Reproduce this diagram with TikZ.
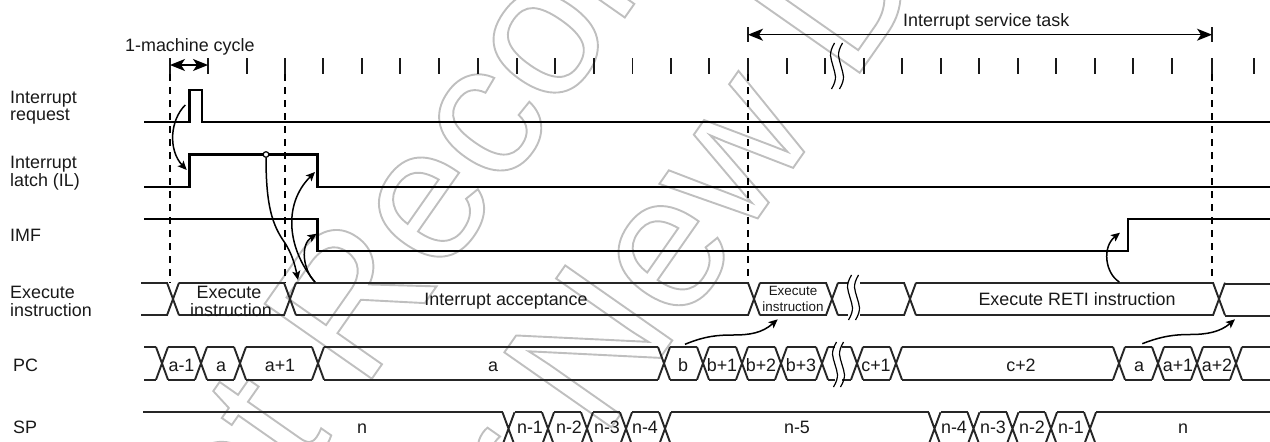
\documentclass[tikz,border=0pt]{standalone}
\usepackage{fontspec}
\setmainfont{Liberation Sans}
\usetikzlibrary{arrows.meta}
\newfontfamily\wmfont{Liberation Sans}
\newcommand{\wmtext}[1]{\special{pdf:code q 1 Tr 1.9 w 0.75 G}{\fontsize{190}{190}\selectfont\wmfont #1}\special{pdf:code Q}}
\tikzset{
  sig/.style={line width=2.1pt,color=black},
  bus/.style={line width=1.9pt,color=black!85,line join=round},
  tick/.style={line width=1.9pt,color=black!90},
  guide/.style={line width=1.4pt,dash pattern=on 7pt off 6pt},
  dim/.style={line width=1.3pt,{Stealth[length=15pt,width=12pt,inset=4pt]}-{Stealth[length=15pt,width=12pt,inset=4pt]}},
  cause/.style={line width=1.5pt,-{Stealth[length=9pt,width=8pt,inset=2pt]}},
  brk/.style={line width=1.2pt},
  lbl/.style={font=\fontsize{17.9}{18}\selectfont,anchor=base west,inner sep=0pt,align=left,color=black!90},
  val/.style={font=\fontsize{17.9}{18}\selectfont,anchor=base,inner sep=0pt,color=black!90},
  small/.style={font=\fontsize{13.4}{14}\selectfont,anchor=base,inner sep=0pt,color=black!90},
  wm/.style={anchor=base west,inner sep=0pt,rotate=55}
}
\newcommand{\crossing}[3]{\draw[bus] (#1-6,#2)--(#1+6,#3) (#1-6,#3)--(#1+6,#2);}
\newcommand{\rails}[4]{\draw[bus] (#1,#3)--(#2,#3) (#1,#4)--(#2,#4);}
\newcommand{\wavy}[3]{\draw[brk] (#1+1.5,#2) .. controls (#1-5,#2+11) and (#1-2,#2+15) .. (#1,{(#2+#3)/2}) .. controls (#1+2,#3-15) and (#1+5,#3-11) .. (#1-1.5,#3);}
\begin{document}
\begin{tikzpicture}[x=1pt,y=-1pt]
\useasboundingbox (0,0) rectangle (1270,442);
\clip (0,0) rectangle (1270,442);
% watermark
\node[wm] (wmA) at (163,677) {\wmtext{Not Recommended}};
\node[wm] (wmB) at (445,665) {\wmtext{for New Design}};
% ticks
\foreach \x in {170,208,247,285,323,362,400,439,478,517,555,594,632.5,671,709,748,787,825,864,902,941,979,1018,1056,1095,1133,1172,1212,1254}
  \draw[tick] (\x,58)--(\x,74);
\foreach \x in {170,285,748,1212}
  \draw[guide] (\x,74)--(\x,283);
\draw[tick,line width=1.4pt] (748,27)--(748,42) (1212,27)--(1212,42);
\coordinate (ma) at (170,65); \coordinate (mb) at (208,65);
\draw[dim] (ma)--(mb);
\coordinate (ia) at (748,34.7); \coordinate (ib) at (1212,34.7);
\draw[dim] (ia)--(ib);
\wavy{833}{43}{89}\wavy{841}{43}{89}
% signals
\draw[sig] (144,122.3)--(189.5,122.3)--(189.5,90)--(201.7,90)--(201.7,122.3)--(1270,122.3);
\draw[sig] (144,186.7)--(189.5,186.7)--(189.5,154.5)--(317.5,154.5)--(317.5,186.7)--(1270,186.7);
\draw[sig] (144,219)--(317.5,219)--(317.5,251)--(1128,251)--(1128,219)--(1270,219);
% execute row
\def\t{282.7}\def\b{315.3}
\rails{141}{167.5}{\t}{\b}\crossing{173}{\t}{\b}
\rails{179}{284.5}{\t}{\b}\crossing{290}{\t}{\b}
\rails{296}{748.5}{\t}{\b}\crossing{754}{\t}{\b}
\rails{760}{826.5}{\t}{\b}\crossing{832}{\t}{\b}
\rails{838}{848}{\t}{\b}\rails{860}{904.5}{\t}{\b}\crossing{910}{\t}{\b}
\rails{916}{1213.5}{\t}{\b}\crossing{1219}{\t}{\b}
\rails{1225}{1270}{283.7}{316}
\wavy{850}{275}{320}\wavy{857}{275}{320}
% PC row
\def\t{347}\def\b{379.7}
\rails{144}{156}{\t}{\b}
\foreach \c/\n in {162/201,201/240,240/318,318/664,664/703,703/742,742/781,781/822,857/896,896/1119,1119/1158,1158/1197,1197/1236}{
  \crossing{\c}{\t}{\b}\rails{\c+6}{\n-6}{\t}{\b}}
\crossing{822}{\t}{\b}\crossing{1236}{\t}{\b}
\rails{828}{835}{\t}{\b}\rails{842}{851}{\t}{\b}\rails{1242}{1270}{\t}{\b}
\wavy{835}{342}{387}\wavy{842}{342}{387}
% SP row
\def\t{412.3}\def\b{445}
\rails{143}{502.5}{\t}{\b}\rails{671}{928.5}{\t}{\b}\rails{1096}{1270}{\t}{\b}
\foreach \c/\n in {508.5/548,548/587,587/626,626/665,934.5/973.5,973.5/1012.5,1012.5/1051,1051/1090}{
  \crossing{\c}{\t}{\b}\rails{\c+6}{\n-6}{\t}{\b}}
\crossing{665}{\t}{\b}\crossing{1090}{\t}{\b}
% cause arrows
\coordinate (a1) at (185.3,105); \coordinate (a2) at (186.7,170);
\draw[cause] (a1) .. controls (170,120) and (168,150) .. (a2);
\draw[line width=1.2pt,fill=white] (266,154.5) circle (2.8) coordinate (ilm);
\coordinate (b2) at (298,280);
\draw[cause] (266,157.5) .. controls (266,205) and (272,225) .. (285,243) .. controls (292,254) and (295,265) .. (b2);
\coordinate (c1) at (315,282); \coordinate (c2) at (315,172);
\draw[cause] (c1) .. controls (288,250) and (282,205) .. (c2);
\coordinate (d1) at (315,282); \coordinate (d2) at (316.7,233.7);
\draw[cause] (d1) .. controls (303,270) and (300,245) .. (d2);
\coordinate (e1) at (685,344.3); \coordinate (e2) at (777.7,319.3);
\draw[cause] (e1) .. controls (705,336) and (718,335) .. (733,335) .. controls (750,335) and (762,333) .. (e2);
\coordinate (f1) at (1142.3,343.7); \coordinate (f2) at (1235,319.3);
\draw[cause] (f1) .. controls (1162,336) and (1175,334.5) .. (1190,334.5) .. controls (1207,334.5) and (1220,332) .. (f2);
\coordinate (g1) at (1119.3,282); \coordinate (g2) at (1120,232.7);
\draw[cause] (g1) .. controls (1105,273) and (1102,247) .. (g2);
% labels
\node[lbl] (l1) at (125,51.7) {1-machine cycle};
\node[lbl] (l2) at (903,26.7) {Interrupt service task};
\node[lbl] (r1a) at (10,103) {Interrupt};
\node[lbl] (r1b) at (10,120.7) {request};
\node[lbl] (r2a) at (10,168) {Interrupt};
\node[lbl] (r2b) at (10,186) {latch (IL)};
\node[lbl] (r3) at (10,241.7) {IMF};
\node[lbl] (r4a) at (10,298) {Execute};
\node[lbl] (r4b) at (10,316) {instruction};
\node[lbl] (r5) at (13,371) {PC};
\node[lbl] (r6) at (13,433) {SP};
\node[val] (x1) at (229,298) {Execute};
\node[val] (x2) at (231,316) {instruction};
\node[val] (x3) at (506,305) {Interrupt acceptance};
\node[small] (x4) at (793,295) {Execute};
\node[small] (x5) at (793,311) {instruction};
\node[val] (x6) at (1077,305) {Execute RETI instruction};
\foreach \c/\s in {181.5/a-1,221/a,280/a+1,493/a,683/b,722/b+1,761/b+2,801/b+3,876/c+1,1021/c+2,1139/a,1178/a+1,1217/a+2}
  \node[val] at (\c,371) {\s};
\foreach \c/\s in {362/n,530/n-1,569/n-2,607/n-3,645/n-4,797/n-5,954/n-4,993/n-3,1032/n-2,1071/n-1,1183/n}
  \node[val] at (\c,433) {\s};
\end{tikzpicture}
\end{document}
